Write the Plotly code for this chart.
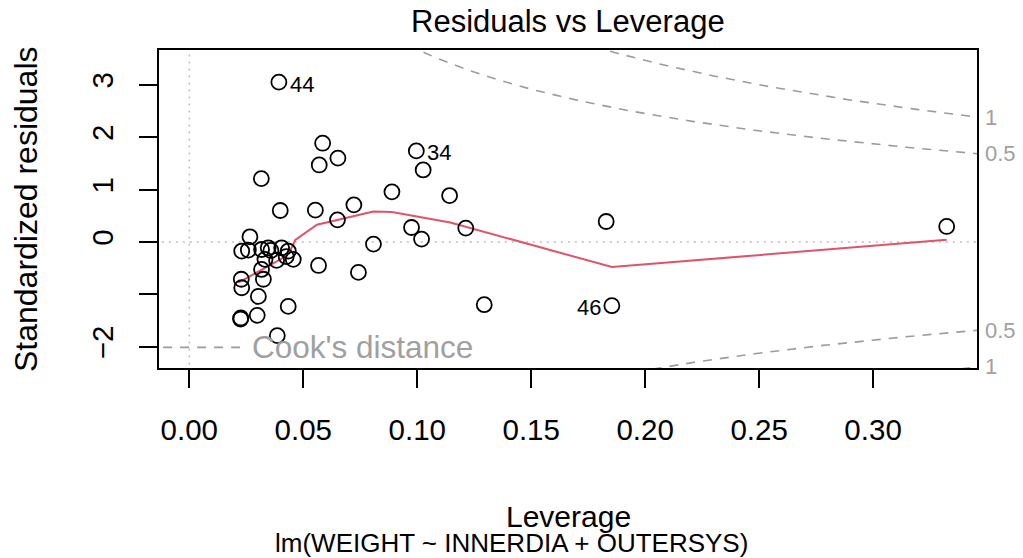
import numpy as np
import plotly.graph_objects as go

# ---- data ----
leverage = [0.0393, 0.0585, 0.0652, 0.0570, 0.0316, 0.0399, 0.0553, 0.0722, 0.0889, 0.0650,
            0.0975, 0.0996, 0.1026, 0.1142, 0.1213, 0.1019, 0.1294, 0.1829, 0.1854, 0.3323,
            0.0808, 0.0567, 0.0742, 0.0266, 0.0230, 0.0259, 0.0317, 0.0346, 0.0358, 0.0405,
            0.0434, 0.0332, 0.0383, 0.0456, 0.0425, 0.0317, 0.0228, 0.0230, 0.0325, 0.0303,
            0.0434, 0.0226, 0.0225, 0.0298, 0.0386]
std_resid = [3.05, 1.885, 1.60, 1.47, 1.21, 0.601, 0.608, 0.709, 0.957, 0.423,
             0.276, 1.738, 1.375, 0.886, 0.265, 0.055, -1.197, 0.391, -1.216, 0.296,
             -0.04, -0.448, -0.581, 0.099, -0.173, -0.154, -0.143, -0.111, -0.162, -0.111,
             -0.173, -0.333, -0.352, -0.333, -0.28, -0.524, -0.711, -0.873, -0.711, -1.039,
             -1.229, -1.45, -1.47, -1.40, -1.787]
point_labels = {0: "44", 11: "34", 18: "46"}

smooth_x = [0.0215, 0.0317, 0.0412, 0.0442, 0.0465, 0.0560, 0.0808, 0.0889, 0.1013, 0.1145, 0.1854, 0.3323]
smooth_y = [-0.777, -0.524, -0.301, -0.173, 0.04, 0.328, 0.581, 0.570, 0.474, 0.372, -0.478, 0.042]

n_params = 3
cook_levels = [0.5, 1.0]
cook_level_text = ["0.5", "1"]

x_range = [-0.0133, 0.3456]
y_range = [-2.405, 3.664]
x_ticks = [0.00, 0.05, 0.10, 0.15, 0.20, 0.25, 0.30]
x_ticktext = ["0.00", "0.05", "0.10", "0.15", "0.20", "0.25", "0.30"]
y_ticks = [-2, -1, 0, 1, 2, 3]
y_ticktext = ["\u22122", "", "0", "1", "2", "3"]

FONT = "Liberation Sans, Arial, sans-serif"
FS = 29.5
GRAY = "#a0a0a0"
DASH_GRAY = "#9c9c9c"

fig = go.Figure()

# Cook's distance contours
hh = np.linspace(0.004, x_range[1], 400)
for lvl in cook_levels:
    yy = np.sqrt(lvl * n_params * (1 - hh) / hh)
    for sgn in (1, -1):
        fig.add_trace(go.Scatter(x=hh, y=sgn * yy, mode="lines",
                                 line=dict(color=DASH_GRAY, width=1.6, dash="9px,8px"),
                                 hoverinfo="skip", showlegend=False))

# reference dotted lines
fig.add_trace(go.Scatter(x=[0, 0], y=[y_range[0] - 1, y_range[1] + 1], mode="lines",
                         line=dict(color="#bdbdbd", width=1.5, dash="2px,5px"), showlegend=False))
fig.add_trace(go.Scatter(x=[x_range[0] - 1, x_range[1] + 1], y=[0, 0], mode="lines",
                         line=dict(color="#bdbdbd", width=1.5, dash="2px,5px"), showlegend=False))

# smoother
fig.add_trace(go.Scatter(x=smooth_x, y=smooth_y, mode="lines",
                         line=dict(color="#DF536B", width=2), showlegend=False))

# points
fig.add_trace(go.Scatter(x=leverage, y=std_resid, mode="markers",
                         marker=dict(symbol="circle-open", size=15, color="black",
                                     line=dict(width=1.8, color="black")),
                         showlegend=False))

annotations = []
for i, lab in point_labels.items():
    left = lab == "46"
    annotations.append(dict(x=leverage[i], y=std_resid[i], xref="x", yref="y", text=lab,
                            showarrow=False, xanchor="right" if left else "left",
                            xshift=-9 if left else 9, yshift=-2,
                            font=dict(family=FONT, size=22, color="black")))

# Cook's level labels on the right
for lvl, txt in zip(cook_levels, cook_level_text):
    v = float(np.sqrt(lvl * n_params * (1 - x_range[1]) / x_range[1]))
    for sgn in (1, -1):
        annotations.append(dict(x=1, y=sgn * v, xref="paper", yref="y", text=txt,
                                showarrow=False, xanchor="left", xshift=6,
                                font=dict(family=FONT, size=22, color=GRAY)))

# legend
fig.add_shape(type="line", xref="paper", yref="paper", x0=0.005, x1=0.105, y0=0.065, y1=0.065,
              line=dict(color=DASH_GRAY, width=1.6, dash="9px,8px"))
annotations.append(dict(x=0.111, y=0.065, xref="paper", yref="paper", text="Cook's distance",
                        showarrow=False, xanchor="left", yanchor="middle",
                        font=dict(family=FONT, size=31.5, color=GRAY)))

# titles
annotations.append(dict(x=0.5, y=1, xref="paper", yref="paper", text="Residuals vs Leverage",
                        showarrow=False, xanchor="center", yanchor="middle", yshift=29,
                        font=dict(family=FONT, size=31, color="black")))
annotations.append(dict(x=0.5, y=0, xref="paper", yref="paper", text="Leverage",
                        showarrow=False, xanchor="center", yanchor="middle", yshift=-148,
                        font=dict(family=FONT, size=30, color="black")))
annotations.append(dict(x=0.431, y=0, xref="paper", yref="paper",
                        text="lm(WEIGHT ~ INNERDIA + OUTERSYS)",
                        showarrow=False, xanchor="center", yanchor="middle", yshift=-175,
                        font=dict(family=FONT, size=26, color="black")))
annotations.append(dict(x=0, y=0.5, xref="paper", yref="paper", text="Standardized residuals",
                        showarrow=False, xanchor="center", yanchor="middle", xshift=-133,
                        textangle=-90, font=dict(family=FONT, size=32, color="black")))

fig.update_layout(
    width=1023, height=558,
    margin=dict(l=159, r=46, t=50, b=190),
    plot_bgcolor="white", paper_bgcolor="white",
    font=dict(family=FONT, size=FS, color="black"),
    annotations=annotations,
    xaxis=dict(range=x_range, tickvals=x_ticks, ticktext=x_ticktext, showgrid=False,
               zeroline=False, showline=True, mirror=True, linecolor="black", linewidth=1.5,
               ticks="outside", ticklen=18, tickwidth=1.5, tickcolor="black",
               ticklabelstandoff=17, tickfont=dict(family=FONT, size=FS)),
    yaxis=dict(range=y_range, tickvals=y_ticks, ticktext=y_ticktext, showgrid=False,
               zeroline=False, showline=True, mirror=True, linecolor="black", linewidth=1.5,
               ticks="outside", ticklen=18, tickwidth=1.5, tickcolor="black",
               tickangle=-90, ticklabelstandoff=14, tickfont=dict(family=FONT, size=FS)),
)

fig.write_html("out.html")
